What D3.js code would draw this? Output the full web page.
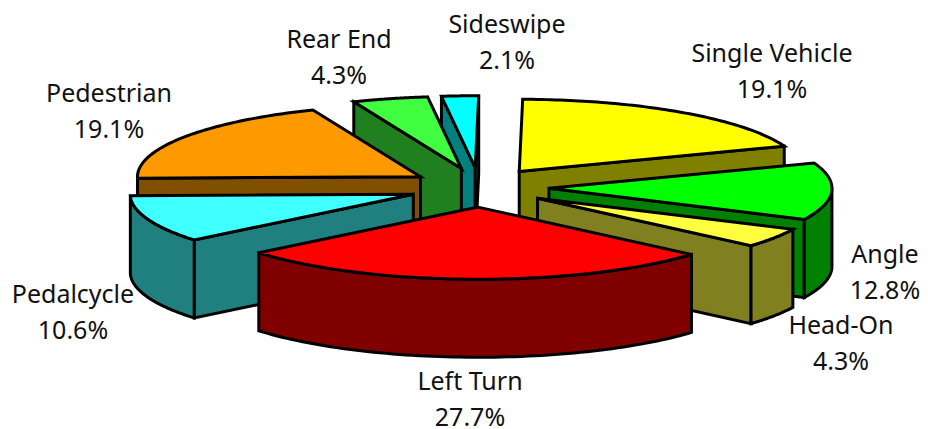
<!DOCTYPE html>
<html>
<head>
<meta charset="utf-8">
<script src="https://cdnjs.cloudflare.com/ajax/libs/d3/7.9.0/d3.min.js"></script>
<style>
  html, body { margin: 0; padding: 0; background: #fff; }
  svg { display: block; }
  text { font-family: "Noto Sans", sans-serif; font-size: 25px; fill: #111; }
</style>
</head>
<body>
<svg id="chart" width="928" height="429"></svg>
<script>
// Crash types and their share of all crashes, clockwise from the top of the pie.
const categories = ["Single Vehicle", "Angle", "Head-On", "Left Turn", "Pedalcycle", "Pedestrian", "Rear End", "Sideswipe"];
const shares = [19.1, 12.8, 4.3, 27.7, 10.6, 19.1, 4.3, 2.1];
const topColors = ["#ffff00", "#00ff00", "#ffff40", "#ff0000", "#40ffff", "#ff9900", "#40ff40", "#00ffff"];
const sideColors = ["#808000", "#008000", "#808020", "#800000", "#208080", "#804f00", "#208020", "#008080"];
const labelCenters = [[772, 70], [885, 271], [841, 342], [470, 398], [73, 311], [109, 110], [339, 56], [507, 41]];

// Oblique view of the pie: a flattened circle with an extruded rim.
const cx = 479, cy = 187.5, radius = 283, flatten = 0.255;
const explode = 70, explodeFlatten = 0.28, depth = 78;
const rotation = 0.7 * Math.PI / 180;

const svg = d3.select("#chart");
const pie = d3.pie().sort(null).startAngle(rotation).endAngle(rotation + 2 * Math.PI);
const scaleX = d3.scaleLinear().domain([-1, 1]).range([-radius, radius]);
const scaleY = d3.scaleLinear().domain([-1, 1]).range([radius * flatten, -radius * flatten]);
const line = d3.line();

const slices = pie(shares).map((d, i) => {
  const mid = (d.startAngle + d.endAngle) / 2;
  return {
    i,
    a0: d.startAngle,
    a1: d.endAngle,
    mid,
    apex: [cx + explode * Math.sin(mid), cy - explode * explodeFlatten * Math.cos(mid)]
  };
});

// Point on a slice's rim at the given angle, dropped by h below the top surface.
const rim = (s, a, h = 0) => [s.apex[0] + scaleX(Math.sin(a)), s.apex[1] + scaleY(Math.cos(a)) + h];
const arcAngles = (a0, a1) => d3.range(0, 73).map(k => a0 + (a1 - a0) * k / 72);

const drawFace = (points, fill) => svg.append("path")
  .attr("d", line(points) + "Z")
  .attr("fill", fill)
  .attr("stroke", "#000")
  .attr("stroke-width", 3)
  .attr("stroke-linejoin", "miter");

// Far slices first, so nearer ones overlap them.
slices.slice().sort((p, q) => d3.ascending(p.apex[1], q.apex[1])).forEach(s => {
  const side = sideColors[s.i];
  const cut = a => [s.apex, rim(s, a), rim(s, a, depth), [s.apex[0], s.apex[1] + depth]];
  if (Math.sin(s.a0) < 0) drawFace(cut(s.a0), side);
  if (Math.sin(s.a1) > 0) drawFace(cut(s.a1), side);
  const from = Math.max(s.a0, Math.PI / 2), to = Math.min(s.a1, 3 * Math.PI / 2);
  if (to > from) {
    const upper = arcAngles(from, to).map(a => rim(s, a));
    const lower = arcAngles(to, from).map(a => rim(s, a, depth));
    drawFace(upper.concat(lower), side);
  }
  drawFace([s.apex].concat(arcAngles(s.a0, s.a1).map(a => rim(s, a))), topColors[s.i]);
});

// Two-line labels: category name above its percentage.
categories.forEach((name, i) => {
  const t = svg.append("text").attr("text-anchor", "middle");
  t.append("tspan").attr("x", labelCenters[i][0]).attr("y", labelCenters[i][1] - 8).text(name);
  t.append("tspan").attr("x", labelCenters[i][0]).attr("y", labelCenters[i][1] + 28).text(d3.format(".1f")(shares[i]) + "%");
});
</script>
</body>
</html>
